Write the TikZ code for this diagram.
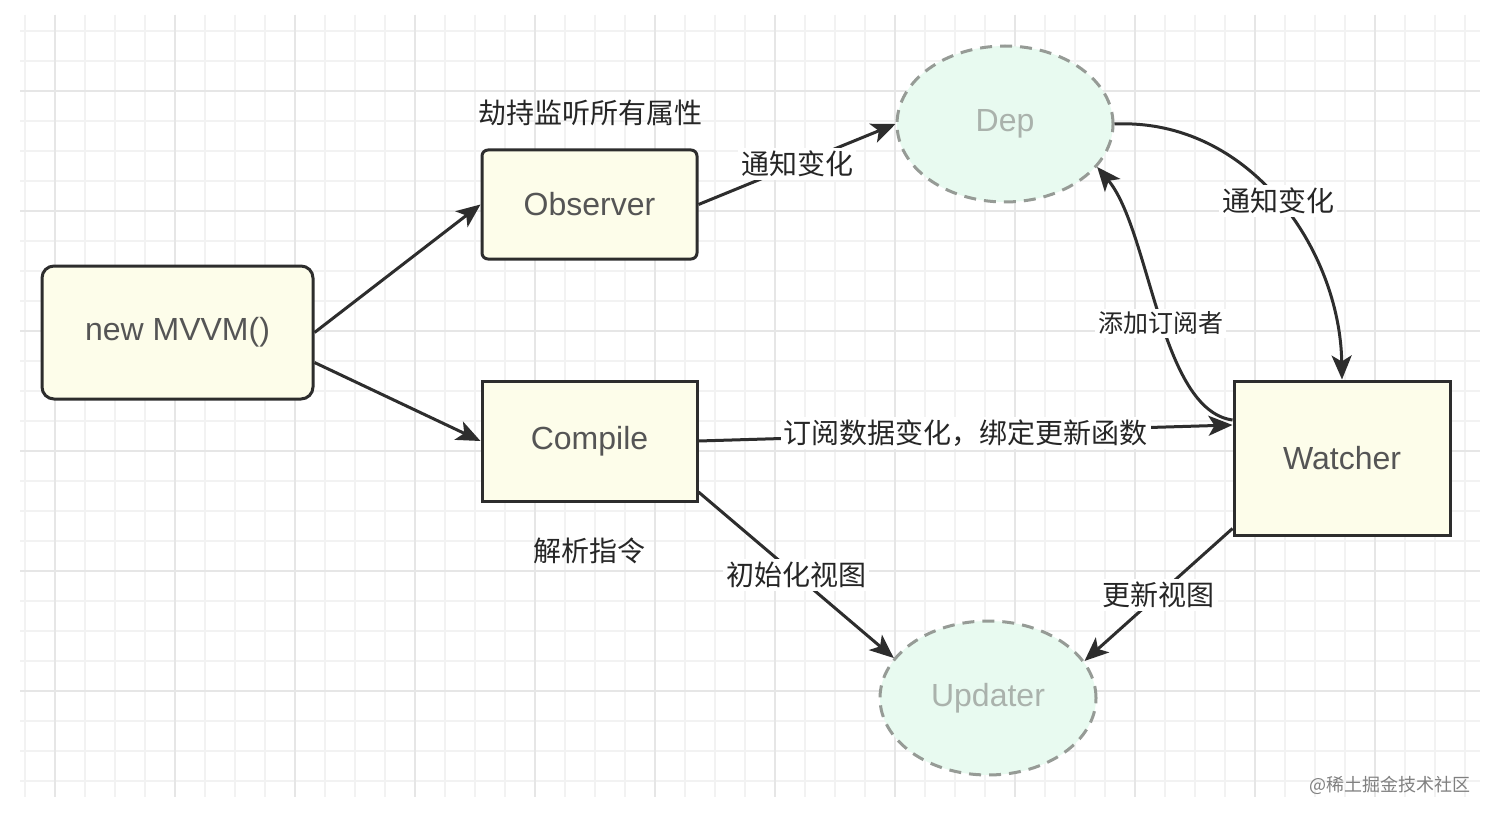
\documentclass[tikz,border=0pt]{standalone}
\usepackage{fontspec}
\setmainfont{Liberation Sans}
\newfontfamily\cjk{Noto Sans CJK SC}
\usetikzlibrary{arrows.meta}
\definecolor{boxfill}{RGB}{253,253,234}
\definecolor{ellfill}{RGB}{232,250,240}
\definecolor{ellline}{RGB}{150,155,150}
\definecolor{edgecol}{RGB}{45,45,45}
\definecolor{boxtext}{RGB}{85,85,85}
\definecolor{elltext}{RGB}{170,178,172}
\definecolor{gridminor}{RGB}{242,242,242}
\definecolor{gridmajor}{RGB}{230,230,230}
\tikzset{
  boxnode/.style={draw=edgecol, line width=1.5pt, fill=boxfill, text=boxtext, font=\fontsize{16}{18}\selectfont, inner sep=0pt},
  ellnode/.style={ellipse, draw=ellline, dash pattern=on 6pt off 4pt, line width=1.5pt, fill=ellfill, text=elltext, font=\fontsize{16}{18}\selectfont, inner sep=0pt},
  conn/.style={draw=edgecol, line width=1.5pt, -{Stealth[length=12pt,width=10pt,inset=3pt]}},
  lbl/.style={font=\cjk\fontsize{14}{16}\selectfont, text=black!85, fill=white, inner sep=1.5pt},
  freelbl/.style={font=\cjk\fontsize{14}{16}\selectfont, text=black!85, inner sep=0pt},
}
\usetikzlibrary{shapes.geometric}
\begin{document}
\begin{tikzpicture}[x=0.5pt,y=-0.5pt]
\useasboundingbox (0,0) rectangle (1492,818);
\fill[white] (0,0) rectangle (1492,818);
% grid
\foreach \i in {0,...,48}{
  \draw[gridminor, line width=0.75pt] ({25+30*\i},15) -- ({25+30*\i},797);
}
\foreach \j in {0,...,25}{
  \draw[gridminor, line width=0.75pt] (20,{31+30*\j}) -- (1480,{31+30*\j});
}
\foreach \i in {0,...,11}{
  \draw[gridmajor, line width=0.75pt] ({55+120*\i},15) -- ({55+120*\i},797);
}
\foreach \j in {0,...,5}{
  \draw[gridmajor, line width=0.75pt] (20,{91+120*\j}) -- (1480,{91+120*\j});
}
% nodes
\node[boxnode, rounded corners=6pt, minimum width=135.5pt, minimum height=66.5pt] (mvvm) at (177.5,332.5) {new MVVM()};
\node[boxnode, rounded corners=3pt, minimum width=107.5pt, minimum height=54.5pt] (obs) at (589.5,204.5) {Observer};
\node[boxnode, minimum width=107.5pt, minimum height=60pt] (comp) at (589.5,441) {Compile};
\node[boxnode, minimum width=108pt, minimum height=77pt] (wat) at (1342,458) {Watcher};
\node[ellnode, minimum width=108pt, minimum height=78pt] (dep) at (1005,124) {\raisebox{-1pt}{Dep}};
\node[ellnode, minimum width=108pt, minimum height=77pt] (upd) at (988,698) {\raisebox{-1pt}{Updater}};
% free labels
\node[freelbl] (l1) at (590,113) {劫持监听所有属性};
\node[freelbl] (l2) at (589,551) {解析指令};
\node[font=\cjk\fontsize{9}{11}\selectfont, text=black!50] (wm) at (1390,785) {@稀土掘金技术社区};
% connectors
\draw[conn] (mvvm.east) -- (obs.west);
\draw[conn] ([yshift=-15pt]mvvm.east) -- (comp.west);
\draw[conn] (obs.east) -- node[lbl] {通知变化} (dep.west);
\draw[conn] (dep.east) .. controls (1250,118) and (1340,250) .. node[lbl] {通知变化} (wat.north);
\draw[conn] ([yshift=19pt]wat.west) .. controls (1160,410) and (1150,230) .. node[lbl, pos=0.47, font=\cjk\fontsize{12.5}{14}\selectfont] {添加订阅者} (dep.-25);
\draw[conn] (comp.east) -- node[lbl] {订阅数据变化，绑定更新函数} ([yshift=16.5pt]wat.west);
\draw[conn] ([yshift=-25.5pt]comp.east) -- node[lbl] {初始化视图} (upd.157);
\draw[conn] ([yshift=4pt]wat.south west) -- node[lbl] {更新视图} (upd.21);
\end{tikzpicture}
\end{document}
